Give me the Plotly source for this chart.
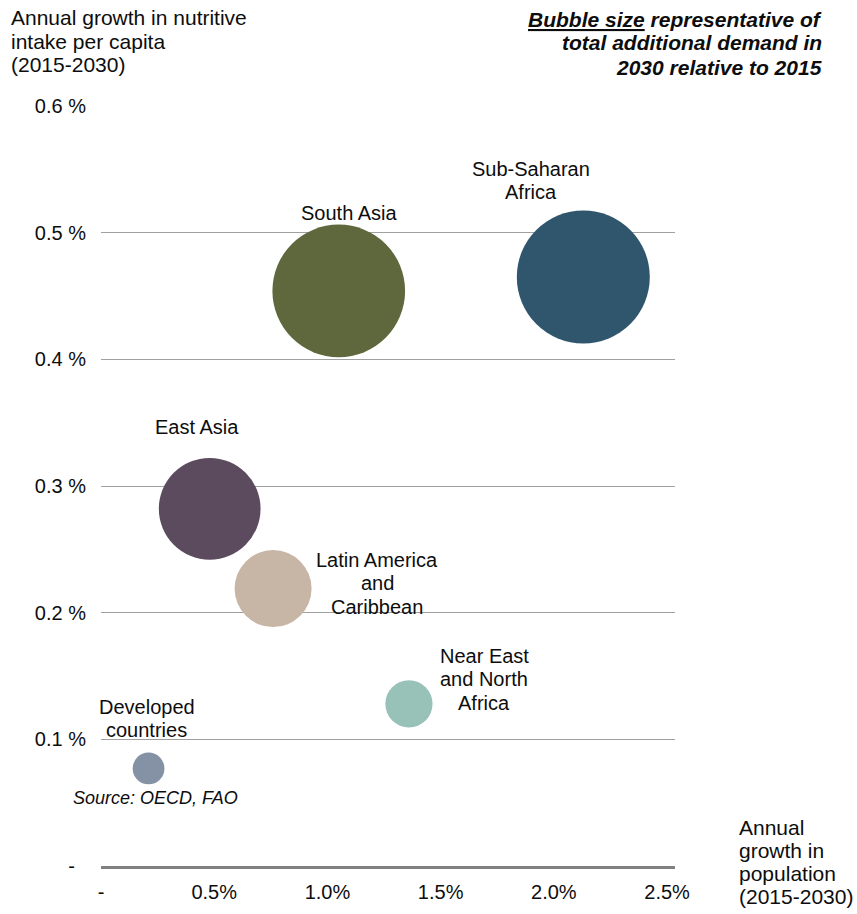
import plotly.graph_objects as go

# Regional outlook 2015-2030
regions = [
    "South Asia",
    "Sub-Saharan Africa",
    "East Asia",
    "Latin America and Caribbean",
    "Near East and North Africa",
    "Developed countries",
]
pop_growth = [1.05, 2.13, 0.48, 0.76, 1.36, 0.21]            # % per year
intake_growth = [0.454, 0.465, 0.282, 0.219, 0.128, 0.077]   # % per year
additional_demand = [99.5, 100.0, 58.5, 33.5, 12.6, 5.7]     # relative index
colors = ["#5f673c", "#30566e", "#5c4a5e", "#c7b5a5", "#98c1b8", "#8592a5"]

x_ticks = [0, 0.5, 1.0, 1.5, 2.0, 2.5]
x_tick_labels = ["-", "0.5%", "1.0%", "1.5%", "2.0%", "2.5%"]
y_ticks = [0, 0.1, 0.2, 0.3, 0.4, 0.5, 0.6]
y_tick_labels = ["-\u00a0\u00a0", "0.1 %", "0.2 %", "0.3 %", "0.4 %", "0.5 %", "0.6 %"]

bubble_labels = [
    ["South Asia"],
    ["Sub-Saharan", "Africa"],
    ["East Asia"],
    ["Latin America", "and", "Caribbean"],
    ["Near East", "and North", "Africa"],
    ["Developed", "countries"],
]

FONT = "Liberation Sans, Arial, sans-serif"
W, H = 857, 914
L, R, T, B = 101, 182, 106, 48
MAX_DIAMETER = 133

fig = go.Figure(
    go.Scatter(
        x=pop_growth,
        y=intake_growth,
        mode="markers",
        text=regions,
        marker=dict(
            size=additional_demand,
            sizemode="area",
            sizeref=2.0 * max(additional_demand) / MAX_DIAMETER ** 2,
            color=colors,
            opacity=1,
            line=dict(width=0),
        ),
        hovertemplate="%{text}<extra></extra>",
        showlegend=False,
    )
)


def to_paper(px, py):
    return (px - L) / (W - L - R), (H - B - py) / (H - T - B)


annotations = []


def add_lines(lines, x_px, y_first, spacing, anchor, size=20, bold=False, italic=False):
    for i, line in enumerate(lines):
        txt = line
        if italic:
            txt = f"<i>{txt}</i>"
        if bold:
            txt = f"<b>{txt}</b>"
        xp, yp = to_paper(x_px, y_first + i * spacing)
        annotations.append(dict(
            x=xp, y=yp, xref="paper", yref="paper",
            xanchor=anchor, yanchor="middle",
            text=txt, showarrow=False,
            font=dict(family=FONT, size=size, color="#0d0d0d"),
        ))


# axis titles and notes
add_lines(["Annual growth in nutritive", "intake per capita", "(2015-2030)"],
          9, 17.5, 23.5, "left", size=21)
add_lines(["<u>Bubble size</u> representative of", "total additional demand in",
           "2030 relative to 2015"],
          824, 19, 24, "right", size=21, bold=True, italic=True)
add_lines(["Annual", "growth in", "population", "(2015-2030)"],
          737, 827, 23, "left", size=21)
add_lines(["Source: OECD, FAO"], 71, 798, 0, "left", size=18, italic=True)

# region labels
label_spots = [
    (349, 213, 23.3),
    (531, 168.5, 23.5),
    (197, 427, 23.3),
    (377, 560, 23.3),
    (484, 656, 23.3),
    (146.5, 706.7, 23.0),
]
for lines, (lx, ly, sp) in zip(bubble_labels, label_spots):
    add_lines(lines, lx, ly, sp, "center", size=20)

fig.update_layout(
    width=W,
    height=H,
    margin=dict(l=L, r=R, t=T, b=B, pad=0, autoexpand=False),
    paper_bgcolor="white",
    plot_bgcolor="white",
    font=dict(family=FONT, size=20, color="#0d0d0d"),
    annotations=annotations,
    xaxis=dict(
        range=[0, 2.535],
        tickvals=x_ticks,
        ticktext=x_tick_labels,
        showgrid=False,
        zeroline=False,
        showline=True,
        linecolor="#808080",
        linewidth=3,
        ticks="",
        ticklabelstandoff=6,
        automargin=False,
        tickfont=dict(family=FONT, size=20, color="#0d0d0d"),
        fixedrange=True,
    ),
    yaxis=dict(
        range=[0, 0.6],
        tickvals=y_ticks,
        ticktext=y_tick_labels,
        showgrid=True,
        gridcolor="#a0a0a0",
        gridwidth=1.3,
        zeroline=False,
        showline=False,
        ticks="",
        ticklabelstandoff=14,
        automargin=False,
        tickfont=dict(family=FONT, size=20, color="#0d0d0d"),
        fixedrange=True,
    ),
)

fig.write_html("out.html")
